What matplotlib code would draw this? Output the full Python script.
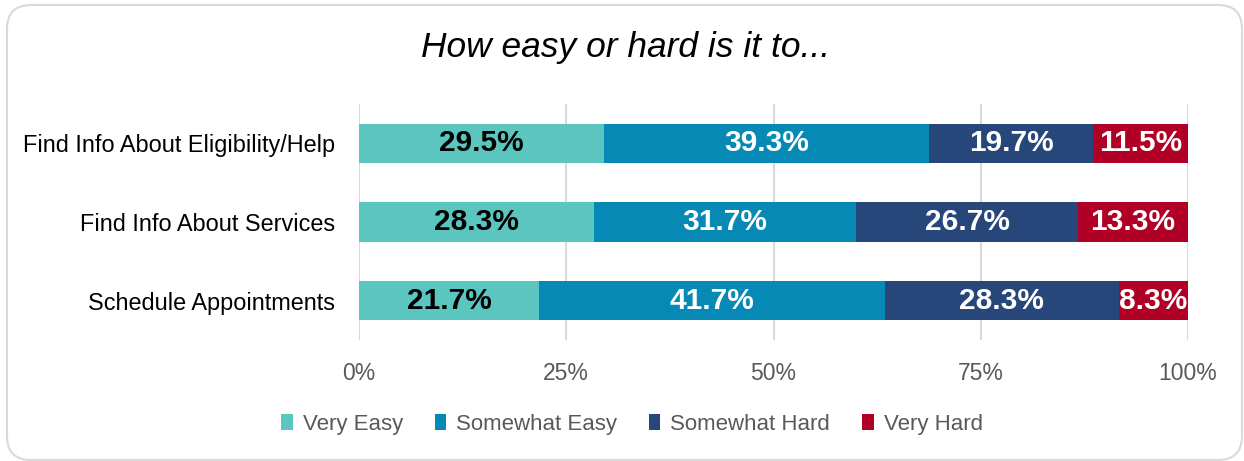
import matplotlib.pyplot as plt
from matplotlib.patches import FancyBboxPatch

plt.rcParams['font.family'] = ['Liberation Sans', 'DejaVu Sans']

# Data
categories = ['Find Info About Eligibility/Help', 'Find Info About Services', 'Schedule Appointments']
series_names = ['Very Easy', 'Somewhat Easy', 'Somewhat Hard', 'Very Hard']
very_easy = [29.5, 28.3, 21.7]
somewhat_easy = [39.3, 31.7, 41.7]
somewhat_hard = [19.7, 26.7, 28.3]
very_hard = [11.5, 13.3, 8.3]
x_ticks = [0, 25, 50, 75, 100]
x_tick_labels = ['0%', '25%', '50%', '75%', '100%']

colors = ['#5BC5BF', '#0789B5', '#27467A', '#B10026']
text_colors = ['black', 'white', 'white', 'white']

W, H = 1244, 461
fig = plt.figure(figsize=(W / 100, H / 100), dpi=100)

# background axes in pixel units, for the rounded border
bg = fig.add_axes([0, 0, 1, 1], zorder=-1)
bg.set_xlim(0, W)
bg.set_ylim(H, 0)
bg.axis('off')
bg.add_patch(FancyBboxPatch((7, 5), 1242 - 7, 460 - 5,
                            boxstyle='round,pad=0,rounding_size=24',
                            facecolor='white', edgecolor='#D9D9D9', linewidth=1.5))

ax = fig.add_axes([359 / W, 1 - 340 / H, (1188 - 359) / W, (340 - 104) / H])
ax.patch.set_visible(False)

y = list(range(len(categories)))
left = [0, 0, 0]
for name, vals, c, tc in zip(series_names, [very_easy, somewhat_easy, somewhat_hard, very_hard], colors, text_colors):
    ax.barh(y, vals, left=left, height=0.5, color=c, label=name, zorder=3)
    for yi, v, l in zip(y, vals, left):
        ax.text(l + v / 2, yi, f'{v:.1f}%', ha='center', va='center',
                color=tc, fontsize=21.5, fontweight='bold', zorder=4)
    left = [a + b for a, b in zip(left, vals)]

ax.set_xlim(0, 100)
ax.set_ylim(len(categories) - 0.5, -0.5)
ax.set_yticks(y)
ax.set_yticklabels(categories, fontsize=16.9, color='black')
ax.set_xticks(x_ticks)
ax.set_xticklabels(x_tick_labels, fontsize=16.5, color='#595959')
ax.tick_params(length=0)
ax.tick_params(axis='x', pad=16)
ax.tick_params(axis='y', pad=17)
ax.grid(axis='x', color='#D9D9D9', linewidth=1.5, zorder=0)
for s in ax.spines.values():
    s.set_visible(False)

fig.text(626 / W, 1 - 48 / H, 'How easy or hard is it to...', ha='center', va='center',
         fontsize=25.5, style='italic', color='black')

fig.legend(loc='center', bbox_to_anchor=(632 / W, 1 - 424 / H), ncol=4, frameon=False,
           fontsize=16, labelcolor='#595959', handlelength=0.5, handleheight=0.75,
           handletextpad=0.45, columnspacing=1.45)

fig.savefig('out.png', dpi=100)
